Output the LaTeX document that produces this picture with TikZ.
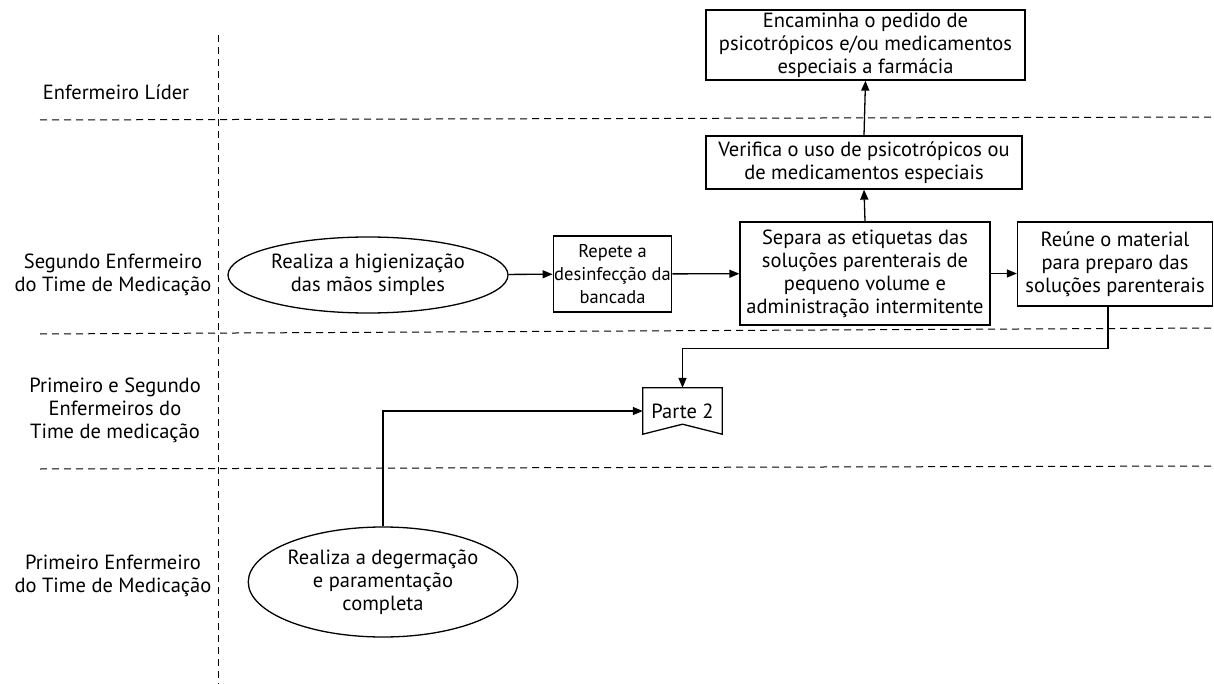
\documentclass[tikz,border=0pt]{standalone}
\usepackage{fontspec}
\setmainfont{PT Sans}
\usetikzlibrary{arrows.meta,shapes.geometric,calc}
\begin{document}
\begin{tikzpicture}[x=1pt,y=-1pt,
  every node/.style={font=\fontsize{20.5}{23}\selectfont, inner sep=1pt},
  box/.style={draw, line width=1.3pt, align=center},
  oval/.style={draw, ellipse, line width=1.3pt, align=center},
  lane/.style={align=center},
  sep/.style={line width=1pt, dash pattern=on 7pt off 5pt},
  arr/.style={line width=1.3pt, -{Triangle[length=10pt,width=8pt]}}]
\useasboundingbox (0,0) rectangle (1214,684);
% swimlane separators
\draw[sep] (218,35) coordinate (vt) -- (218,684) coordinate (vb);
\draw[sep] (40,120) coordinate (h1a) -- (1214,117) coordinate (h1b);
\draw[sep] (40,334) coordinate (h2a) -- (1214,328) coordinate (h2b);
\draw[sep] (40,469) coordinate (h3a) -- (1214,466) coordinate (h3b);
% lane labels
\node[lane] (l1) at (116,92) {Enfermeiro Líder};
\node[lane] (l2) at (113,275) {Segundo Enfermeiro\\do Time de Medicação};
\node[lane] (l3) at (115,410) {Primeiro e Segundo\\Enfermeiros do\\Time de medicação};
\node[lane] (l4) at (113,576) {Primeiro Enfermeiro\\do Time de Medicação};
% process nodes
\node[box, minimum width=319, minimum height=70] (enc) at (865.5,45)
  {Encaminha o pedido de\\psicotrópicos e/ou medicamentos\\especiais a farmácia};
\node[box, minimum width=316, minimum height=53] (ver) at (864,162.5)
  {Verifica o uso de psicotrópicos ou\\de medicamentos especiais};
\node[box, minimum width=250, minimum height=103] (sep) at (865,273.5)
  {Separa as etiquetas das\\soluções parenterais de\\pequeno volume e\\administração intermitente};
\node[box, minimum width=113, minimum height=76, font=\fontsize{18.5}{23}\selectfont] (rep) at (612.5,274)
  {Repete a\\desinfecção da\\bancada};
\node[box, minimum width=195, minimum height=84] (reu) at (1115,264)
  {Reúne o material\\para preparo das\\soluções parenterais};
\node[oval, minimum width=280, minimum height=76, inner sep=0pt] (hig) at (368,275)
  {Realiza a higienização\\das mãos simples};
\node[oval, minimum width=260, minimum height=110, inner sep=0pt] (deg) at (383,582)
  {Realiza a degermação\\e paramentação\\completa};
% off-page connector
\node[minimum width=79, minimum height=46] (parte) at (682.5,411) {Parte 2};
\draw[line width=1.3pt] (parte.north west) -- (parte.south west) -- ([yshift=10pt]parte.south) -- (parte.south east) -- (parte.north east) -- cycle;
% connectors
\draw[arr] (hig) -- (rep);
\draw[arr] (rep) -- (sep);
\draw[arr] (sep.east) -- (sep.east -| reu.west);
\draw[arr] (sep.north) -- (ver.south);
\draw[arr] (ver.north) -- (enc.south);
\draw[arr] ([xshift=-7pt]reu.south) -- ++(0,42) -| (parte.north);
\draw[arr] (deg.north) |- (parte.west);
\end{tikzpicture}
\end{document}
